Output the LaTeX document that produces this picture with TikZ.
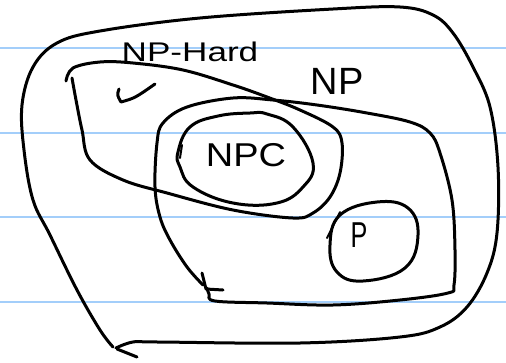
\documentclass[tikz,border=0pt]{standalone}
\usepackage{fontspec}
\setmainfont{Liberation Sans}
\begin{document}
\begin{tikzpicture}[x=1pt,y=-1pt,
  ink/.style={line width=3pt,line cap=round,line join=round,black},
  ruled/.style={line width=2pt,color=ruleblue},
  hand/.style={inner sep=0pt,font=\fontsize{#1}{#1}\selectfont}]
\definecolor{ruleblue}{HTML}{A3CEFA}
\useasboundingbox[fill=white] (0,0) rectangle (506,362);
% ruled paper lines
\foreach \yy in {48,133,217,302} \draw[ruled] (0,\yy) -- (506,\yy);
% outer region
\draw[ink] plot[smooth,tension=0.6] coordinates {(113,347) (100,330) (77,290) (50,235) (33,200) (24,150) (22,105) (33,67) (57,43) (100,31) (200,18) (333,9) (400,7) (433,15) (453,33) (473,67) (490,107) (498,167) (497,233) (487,273) (467,307) (440,327) (400,337) (300,343) (158,342) (133,342) (116,348)};
\draw[ink] (117,349) -- (137,357);
% NP-Hard region
\draw[ink] plot[smooth,tension=0.6] coordinates {(66,81) (73,68) (100,62) (133,63) (183,70) (233,85) (267,97) (300,110) (333,127) (342,143) (340,173) (330,197) (313,213) (293,218) (233,210) (167,193) (123,180) (90,160) (82,130) (76,100) (72,78)};
% NP region
\draw[ink] plot[smooth,tension=0.6] coordinates {(203,285) (187,267) (170,240) (160,217) (155,187) (157,143) (163,123) (187,107) (233,98) (273,100) (317,105) (367,113) (410,122) (430,133) (440,153) (452,200) (455,250) (454,285) (448,293) (400,300) (333,305) (267,303) (215,301) (209,294) (207,288)};
\draw[ink] (202,273) -- (206,289) -- (223,290);
% NPC ellipse
\draw[ink] plot[smooth cycle,tension=0.7] coordinates {(178,152) (190,127) (218,116) (250,113) (267,114) (293,127) (313,163) (303,187) (277,203) (233,203) (193,187) (180,167)};
\draw[ink,line width=2pt] (182,145) -- (180,158);
% P ellipse
\draw[ink] plot[smooth cycle,tension=0.7] coordinates {(330,245) (340,215) (377,202) (408,208) (418,235) (405,268) (363,281) (337,272)};
\draw[ink,line width=2pt] (340,212) -- (327,238);
% check mark
\draw[ink] (119,89) .. controls (117,95) .. (121,102) .. controls (135,98) .. (155,84);
% labels
\node[hand=27,xscale=1.3] (nphard) at (190,52) {NP-Hard};
\node[hand=38] (np) at (337,81) {NP};
\node[hand=33,xscale=1.15] (npc) at (246,155) {NPC};
\node[hand=36,xscale=0.7] (p) at (359,235) {P};
\end{tikzpicture}
\end{document}
